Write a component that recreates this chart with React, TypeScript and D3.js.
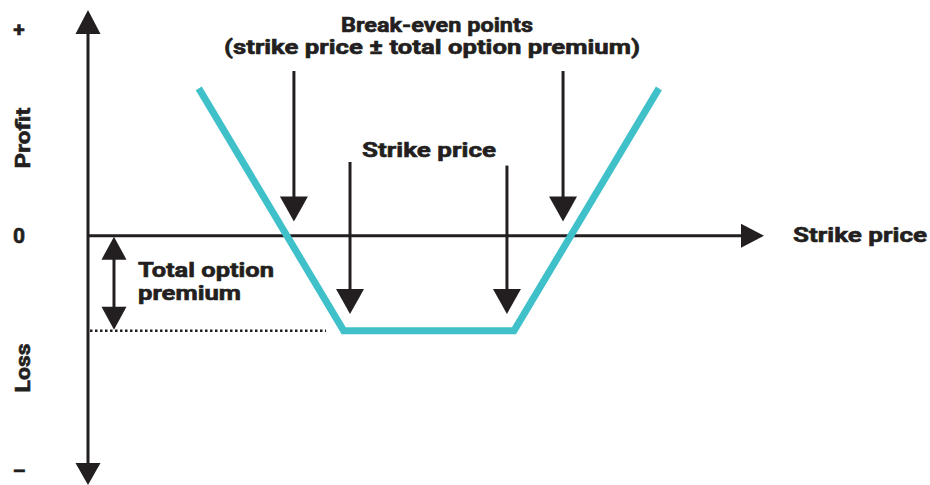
import React, { useEffect, useRef } from "react";
import * as d3 from "d3";

// strangle payoff (price units vs profit units)
const pricePoints = [7.8, 18, 30, 40.2];
const payoffValues = [6.2, -4, -4, 6.2];
const premium = 4;
const breakEvenArrowX = [14.5, 33.45];
const strikeArrowX = [18.45, 29.5];
const strikeArrowTop = [3.1, 2.95];
const yTickLabels = [
  { v: 8.66, t: "+" },
  { v: 0, t: "0" },
  { v: -9.9, t: "–" },
];

const ink = "#231f20";
const cyan = "#40c1ca";
const font = "Roboto, 'Noto Sans', sans-serif";

const App = () => {
  const svgRef = useRef<SVGSVGElement>(null);

  useEffect(() => {
    const width = 930, height = 485;
    const svg = d3.select(svgRef.current).attr("width", width).attr("height", height);
    svg.selectAll("*").remove();

    const x = d3.scaleLinear().domain([0, 47.6]).range([88, 764]);
    const y = d3.scaleLinear().domain([-10.5, 9.5]).range([485, 10]);

    // triangle arrowhead, dir = "up" | "down" | "right"
    const head = (tx: number, ty: number, dir: string, w: number, l: number) => {
      const p = d3.path();
      if (dir === "down") {
        p.moveTo(tx, ty); p.lineTo(tx - w / 2, ty - l); p.lineTo(tx + w / 2, ty - l);
      } else if (dir === "up") {
        p.moveTo(tx, ty); p.lineTo(tx - w / 2, ty + l); p.lineTo(tx + w / 2, ty + l);
      } else {
        p.moveTo(tx, ty); p.lineTo(tx - l, ty - w / 2); p.lineTo(tx - l, ty + w / 2);
      }
      p.closePath();
      svg.append("path").attr("d", p.toString()).attr("fill", ink);
    };

    const vArrow = (px: number, v0: number, v1: number) => {
      const tip = y(v1);
      svg.append("line")
        .attr("x1", x(px)).attr("x2", x(px))
        .attr("y1", y(v0)).attr("y2", tip - 20)
        .attr("stroke", ink).attr("stroke-width", 3);
      head(x(px), tip, "down", 28, 25);
    };

    // axes
    svg.append("line")
      .attr("x1", x(0)).attr("x2", x(0))
      .attr("y1", y(9.5) + 20).attr("y2", y(-10.5) - 18)
      .attr("stroke", ink).attr("stroke-width", 3);
    head(x(0), y(9.5), "up", 25, 24);
    head(x(0), y(-10.5), "down", 25, 22);

    svg.append("line")
      .attr("x1", x(0)).attr("x2", x(47.6) - 20)
      .attr("y1", y(0)).attr("y2", y(0))
      .attr("stroke", ink).attr("stroke-width", 3);
    head(x(47.6), y(0), "right", 24, 23);

    // dotted premium level
    svg.append("line")
      .attr("x1", x(0) + 2).attr("x2", x(16.76))
      .attr("y1", y(-premium)).attr("y2", y(-premium))
      .attr("stroke", ink).attr("stroke-width", 2.5)
      .attr("stroke-dasharray", "2.5,2.5");

    // payoff line
    const line = d3.line<number>()
      .x((d, i) => x(pricePoints[i]))
      .y(d => y(d));
    svg.append("path")
      .attr("d", line(payoffValues))
      .attr("fill", "none")
      .attr("stroke", cyan)
      .attr("stroke-width", 7)
      .attr("stroke-linejoin", "miter");

    // annotation arrows
    breakEvenArrowX.forEach(px => vArrow(px, 6.93, 0.6));
    strikeArrowX.forEach((px, i) => vArrow(px, strikeArrowTop[i], -3.3));

    // premium double arrow
    const pxm = 1.83;
    svg.append("line")
      .attr("x1", x(pxm)).attr("x2", x(pxm))
      .attr("y1", y(0) + 20).attr("y2", y(-premium) - 20)
      .attr("stroke", ink).attr("stroke-width", 3);
    head(x(pxm), y(0) + 1, "up", 25, 23);
    head(x(pxm), y(-premium) - 1, "down", 25, 23);

    // texts
    const text = (t: string, tx: number, ty: number, anchor: string, len?: number, size = 20) => {
      const el = svg.append("text")
        .attr("x", tx).attr("y", ty)
        .attr("text-anchor", anchor)
        .attr("font-family", font)
        .attr("font-weight", 700)
        .attr("font-size", size)
        .attr("fill", ink)
        .attr("stroke", ink)
        .attr("stroke-width", 0.6)
        .text(t);
      if (len) el.attr("textLength", len).attr("lengthAdjust", "spacingAndGlyphs");
      return el;
    };

    text("Break-even points", 437, 32, "middle", 192);
    text("(strike price ± total option premium)", 432, 54, "middle", 416);
    text("Strike price", 429, 157, "middle", 134, 21);
    text("Strike price", 793, 242, "start", 134, 21);
    text("Total option", 138, 277, "start", 136);
    text("premium", 138, 300, "start", 103);

    yTickLabels.forEach(d => {
      text(d.t, 19, y(d.v) + 7, "middle", undefined, 21);
    });

    const vText = (t: string, cy: number, len: number) =>
      svg.append("text")
        .attr("transform", `translate(30,${cy}) rotate(-90)`)
        .attr("text-anchor", "middle")
        .attr("font-family", font).attr("font-weight", 700).attr("font-size", 21)
        .attr("fill", ink).attr("stroke", ink).attr("stroke-width", 0.6)
        .attr("textLength", len).attr("lengthAdjust", "spacingAndGlyphs")
        .text(t);
    vText("Profit", 138, 61);
    vText("Loss", 368, 49);
  }, []);

  return (
    <svg ref={svgRef} style={{ position: "absolute", left: 0, top: 0, background: "#fff" }}></svg>
  );
};

export default App;
